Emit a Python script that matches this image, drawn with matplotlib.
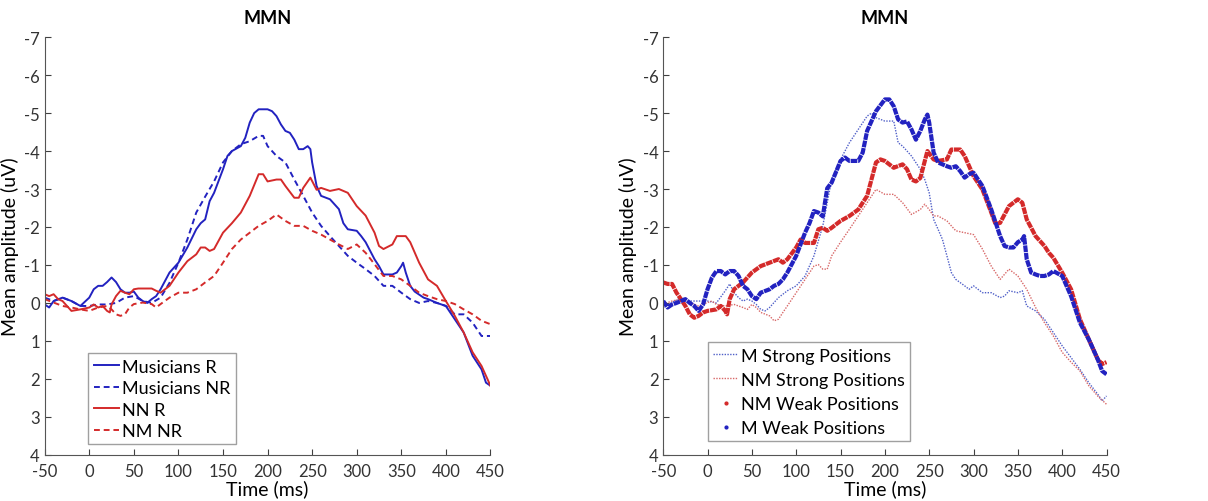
import matplotlib.pyplot as plt
from matplotlib.lines import Line2D

plt.rcParams['font.family'] = ['Lato', 'DejaVu Sans']
plt.rcParams['axes.unicode_minus'] = False

# ---- left panel: response groups ----
t_mus_r = [-50, -45, -40, -30, -20, -10, 0, 5, 10, 15, 20, 25, 30, 35, 40, 45, 50, 55, 60, 65,
           70, 75, 80, 90, 100, 110, 120, 125, 130, 135, 140, 150, 155, 160, 170, 175, 180, 185,
           190, 200, 205, 210, 215, 220, 225, 230, 235, 240, 245, 248, 250, 255, 260, 270, 280,
           285, 290, 300, 305, 310, 320, 325, 330, 340, 345, 350, 352, 355, 360, 365, 375, 380,
           390, 395, 400, 410, 420, 430, 440, 445, 450]
mus_r = [0.04, 0.12, -0.05, -0.14, -0.05, 0.08, -0.14, -0.36, -0.45, -0.45, -0.55, -0.67, -0.55,
         -0.36, -0.27, -0.27, -0.3, -0.14, -0.05, 0.0, -0.1, -0.18, -0.36, -0.8, -1.06, -1.46,
         -1.94, -2.1, -2.2, -2.68, -2.9, -3.52, -3.87, -4.0, -4.13, -4.35, -4.75, -5.0, -5.1,
         -5.1, -5.05, -4.92, -4.7, -4.53, -4.48, -4.3, -4.05, -4.05, -4.13, -4.05, -3.7, -3.08,
         -2.82, -2.73, -2.47, -2.1, -1.94, -1.9, -1.76, -1.6, -1.15, -0.97, -0.75, -0.75, -0.8,
         -0.97, -1.06, -0.8, -0.45, -0.3, -0.14, -0.1, 0.0, 0.04, 0.08, 0.43, 0.78, 1.39, 1.75,
         2.1, 2.18]

t_mus_nr = [-50, -40, -30, -20, -10, 0, 10, 20, 30, 40, 50, 60, 70, 80, 90, 100, 110, 120, 130,
            140, 150, 160, 170, 180, 190, 195, 200, 210, 220, 230, 240, 250, 260, 270, 280, 290,
            300, 310, 320, 330, 340, 350, 360, 370, 380, 390, 400, 410, 420, 430, 440, 450]
mus_nr = [-0.14, -0.05, -0.14, -0.05, 0.08, 0.08, 0.04, 0.04, 0.0, -0.14, -0.18, -0.05, 0.0,
          -0.14, -0.53, -1.06, -1.67, -2.38, -2.8, -3.2, -3.7, -4.0, -4.18, -4.26, -4.4, -4.4,
          -4.13, -3.87, -3.7, -3.25, -2.82, -2.38, -2.03, -1.76, -1.5, -1.24, -1.06, -0.89, -0.71,
          -0.45, -0.45, -0.27, -0.1, 0.0, -0.05, 0.0, 0.08, 0.3, 0.3, 0.52, 0.87, 0.87]

t_nn_r = [-50, -45, -40, -35, -30, -20, -10, 0, 5, 10, 15, 20, 23, 25, 30, 35, 40, 45, 50, 55,
          60, 70, 75, 80, 90, 100, 110, 120, 125, 130, 135, 140, 150, 160, 170, 180, 190, 195,
          200, 210, 215, 220, 230, 235, 240, 248, 255, 260, 270, 280, 290, 300, 310, 320, 325,
          330, 340, 345, 355, 360, 370, 380, 390, 400, 410, 420, 430, 440, 450]
nn_r = [-0.23, -0.18, -0.23, -0.1, -0.05, 0.21, 0.17, 0.12, 0.04, 0.12, 0.08, 0.21, 0.25, 0.04,
        -0.18, -0.32, -0.27, -0.23, -0.36, -0.38, -0.38, -0.38, -0.32, -0.27, -0.45, -0.8, -1.1,
        -1.28, -1.46, -1.46, -1.37, -1.42, -1.85, -2.1, -2.38, -2.82, -3.39, -3.39, -3.2, -3.25,
        -3.25, -3.08, -2.77, -2.77, -3.03, -3.3, -2.98, -3.03, -2.95, -3.0, -2.9, -2.55, -2.3,
        -1.85, -1.5, -1.42, -1.54, -1.76, -1.76, -1.6, -1.06, -0.62, -0.45, -0.05, 0.34, 0.78,
        1.3, 1.66, 2.18]

t_nm_nr = [-50, -40, -30, -20, -10, 0, 10, 20, 25, 30, 35, 40, 45, 50, 60, 70, 75, 80, 90, 100,
           110, 120, 130, 140, 150, 160, 170, 180, 190, 200, 210, 220, 230, 240, 250, 260, 270,
           280, 290, 300, 310, 320, 330, 340, 350, 360, 370, 380, 390, 400, 410, 420, 430, 440,
           450]
nm_nr = [-0.1, -0.01, 0.08, 0.12, 0.17, 0.21, 0.12, 0.08, 0.17, 0.3, 0.34, 0.3, 0.12, 0.03,
         -0.01, 0.03, 0.12, 0.03, -0.14, -0.27, -0.27, -0.36, -0.54, -0.71, -1.06, -1.42, -1.67,
         -1.85, -2.03, -2.16, -2.33, -2.16, -2.03, -2.03, -1.9, -1.8, -1.67, -1.54, -1.42, -1.54,
         -1.32, -1.02, -0.71, -0.71, -0.62, -0.45, -0.27, -0.18, -0.1, -0.05, 0.03, 0.17, 0.3,
         0.47, 0.56]

# ---- right panel: metrical positions ----
t_m_weak = [-50, -45, -40, -35, -30, -25, -20, -15, -10, -5, 0, 5, 10, 15, 20, 25, 30, 35, 40,
            45, 50, 55, 60, 70, 75, 80, 85, 90, 100, 110, 115, 120, 125, 130, 135, 140, 150, 155,
            160, 170, 175, 180, 190, 200, 205, 210, 215, 220, 225, 230, 235, 240, 245, 248, 250,
            255, 260, 270, 275, 280, 285, 290, 295, 300, 310, 320, 330, 335, 340, 345, 350, 355,
            357, 360, 365, 370, 375, 380, 385, 390, 400, 410, 420, 430, 440, 445, 450]
m_weak = [-0.05, 0.12, 0.04, 0.0, -0.05, -0.1, 0.0, 0.08, 0.21, 0.04, -0.36, -0.67, -0.84, -0.84,
          -0.75, -0.84, -0.84, -0.71, -0.45, -0.36, -0.18, -0.1, -0.27, -0.36, -0.45, -0.5, -0.62,
          -0.8, -1.24, -1.85, -2.1, -2.42, -2.38, -2.28, -3.02, -3.17, -3.74, -3.83, -3.74,
          -3.74, -3.96, -4.53, -5.05, -5.36, -5.36, -5.18, -4.83, -4.75, -4.78, -4.57, -4.3,
          -4.53, -4.83, -4.96, -4.75, -3.96, -3.7, -3.6, -3.56, -3.6, -3.47, -3.3, -3.39, -3.43,
          -3.08, -2.46, -1.76, -1.5, -1.46, -1.46, -1.6, -1.67, -1.76, -1.15, -0.8, -0.75, -0.71,
          -0.71, -0.75, -0.84, -0.71, -0.18, 0.52, 0.96, 1.48, 1.79, 1.88]

t_nm_weak = [-50, -45, -40, -35, -30, -25, -20, -15, -10, -5, 0, 10, 15, 20, 22, 25, 30, 40, 50,
             60, 70, 80, 85, 90, 100, 105, 110, 120, 125, 130, 135, 140, 150, 160, 170, 180, 190,
             195, 200, 210, 220, 225, 230, 235, 240, 248, 255, 260, 270, 275, 285, 290, 300, 310,
             320, 325, 330, 340, 350, 355, 360, 370, 380, 385, 390, 400, 410, 420, 430, 440, 445,
             450]
nm_weak = [-0.54, -0.5, -0.5, -0.27, -0.1, 0.08, 0.3, 0.39, 0.34, 0.25, 0.21, 0.17, 0.08, 0.21,
           0.3, -0.1, -0.36, -0.54, -0.8, -0.97, -1.06, -1.15, -1.06, -1.15, -1.46, -1.67, -1.58,
           -1.58, -1.94, -1.98, -1.9, -1.98, -2.16, -2.29, -2.46, -2.82, -3.7, -3.78, -3.74,
           -3.56, -3.65, -3.52, -3.25, -3.2, -3.29, -4.0, -3.78, -3.74, -3.78, -4.04, -4.04,
           -3.87, -3.34, -2.99, -2.38, -2.07, -2.11, -2.55, -2.73, -2.64, -2.2, -1.76, -1.5,
           -1.32, -1.19, -0.8, -0.36, 0.43, 0.96, 1.48, 1.61, 1.56]

t_m_strong = [-50, -40, -30, -20, -10, 0, 10, 20, 25, 30, 35, 40, 45, 50, 55, 60, 65, 70, 80, 90,
              100, 110, 120, 130, 140, 150, 160, 170, 180, 185, 190, 200, 210, 215, 220, 230, 240,
              245, 250, 255, 260, 265, 270, 275, 280, 290, 295, 300, 310, 320, 330, 335, 340, 350,
              355, 360, 370, 380, 390, 400, 410, 420, 430, 440, 445, 450]
m_strong = [0.12, -0.01, -0.14, -0.05, -0.05, -0.05, 0.0, -0.32, -0.5, -0.27, -0.14, -0.05, -0.1,
            -0.05, 0.04, 0.17, 0.21, 0.12, -0.14, -0.32, -0.45, -0.71, -1.24, -2.03, -3.25, -3.78,
            -4.22, -4.57, -4.92, -5.0, -4.88, -4.79, -4.79, -4.22, -4.13, -3.87, -3.52, -3.25,
            -2.9, -2.2, -1.94, -1.67, -1.24, -0.8, -0.62, -0.45, -0.36, -0.45, -0.27, -0.27,
            -0.14, -0.18, -0.32, -0.27, -0.32, 0.08, 0.21, 0.43, 0.78, 1.13, 1.44, 1.75, 2.1, 2.4,
            2.58, 2.45]

t_nm_strong = [-50, -40, -30, -20, -10, 0, 5, 10, 20, 30, 40, 45, 50, 55, 60, 70, 75, 80, 85,
               90, 100, 110, 120, 125, 130, 135, 140, 150, 160, 170, 180, 190, 200, 210, 220, 230,
               240, 245, 250, 255, 260, 270, 280, 290, 300, 310, 320, 330, 340, 350, 360, 370,
               380, 390, 400, 410, 420, 430, 440, 450]
nm_strong = [0.03, -0.05, -0.1, -0.01, 0.08, -0.01, -0.05, 0.04, 0.08, 0.04, 0.12, 0.17, 0.04,
             0.12, 0.25, 0.34, 0.47, 0.43, 0.25, 0.08, -0.27, -0.62, -0.97, -1.01, -0.89, -0.89,
             -1.24, -1.6, -1.94, -2.29, -2.64, -2.99, -2.86, -2.86, -2.64, -2.33, -2.46, -2.6,
             -2.46, -2.29, -2.29, -2.16, -1.9, -1.85, -1.8, -1.42, -0.97, -0.62, -0.89, -0.71,
             -0.36, 0.12, 0.52, 0.87, 1.3, 1.56, 1.79, 2.18, 2.45, 2.67]

xticks = [-50, 0, 50, 100, 150, 200, 250, 300, 350, 400, 450]
yticks = [-7, -6, -5, -4, -3, -2, -1, 0, 1, 2, 3, 4]

blue = '#2222c0'
red = '#d42a2a'
blue_thin = '#5060c8'
red_thin = '#d86868'

fig = plt.figure(figsize=(12.08, 5.02), dpi=100)
ax1 = fig.add_axes([0.037, 0.092, 0.369, 0.832])
ax2 = fig.add_axes([0.549, 0.092, 0.367, 0.832])

ax1.plot(t_mus_r, mus_r, color=blue, lw=1.4, label='Musicians R')
ax1.plot(t_mus_nr, mus_nr, color=blue, lw=1.4, ls=(0, (3, 2)), label='Musicians NR')
ax1.plot(t_nn_r, nn_r, color=red, lw=1.4, label='NN R')
ax1.plot(t_nm_nr, nm_nr, color=red, lw=1.4, ls=(0, (3, 2)), label='NM NR')

ax2.plot(t_m_strong, m_strong, color=blue_thin, lw=1.0, ls=(0, (1, 1)))
ax2.plot(t_nm_strong, nm_strong, color=red_thin, lw=1.0, ls=(0, (1, 1)))
ax2.plot(t_nm_weak, nm_weak, color=red, lw=3.0, ls=(0, (1.6, 0.2)))
ax2.plot(t_m_weak, m_weak, color=blue, lw=3.0, ls=(0, (1.6, 0.2)))

handles2 = [
    Line2D([], [], color=blue_thin, lw=1.0, ls=(0, (1, 1))),
    Line2D([], [], color=red_thin, lw=1.0, ls=(0, (1, 1))),
    Line2D([], [], color=red, ls='none', marker='.', markersize=4),
    Line2D([], [], color=blue, ls='none', marker='.', markersize=4),
]
labels2 = ['M Strong Positions', 'NM Strong Positions', 'NM Weak Positions', 'M Weak Positions']

for ax in (ax1, ax2):
    ax.set_xlim(-50, 450)
    ax.set_ylim(4, -7)
    ax.set_xticks(xticks)
    ax.set_yticks(yticks)
    ax.spines['top'].set_visible(False)
    ax.spines['right'].set_visible(False)
    for s in ('left', 'bottom'):
        ax.spines[s].set_color('#555555')
    ax.tick_params(direction='in', length=4, labelsize=12, colors='#404040', labelcolor='#333333')
    ax.tick_params(axis='x', pad=6)
    ax.set_xlabel('Time (ms)', fontsize=14, labelpad=0)
    ax.set_ylabel('Mean amplitude (uV)', fontsize=14, labelpad=4)
    ax.set_title('MMN', fontsize=13, fontweight='bold', pad=10)

leg1 = ax1.legend(loc='lower left', bbox_to_anchor=(0.098, 0.025), fontsize=13, frameon=True,
                  fancybox=False, edgecolor='#888888', handlelength=1.4, handletextpad=0.15,
                  labelspacing=0.3, borderpad=0.3, borderaxespad=0)
leg2 = ax2.legend(handles2, labels2, loc='lower left', bbox_to_anchor=(0.1, 0.032), fontsize=13,
                  frameon=True, fancybox=False, edgecolor='#888888', handlelength=1.4,
                  handletextpad=0.15, labelspacing=0.45, borderpad=0.3, borderaxespad=0)

fig.savefig('out.png', dpi=100)
